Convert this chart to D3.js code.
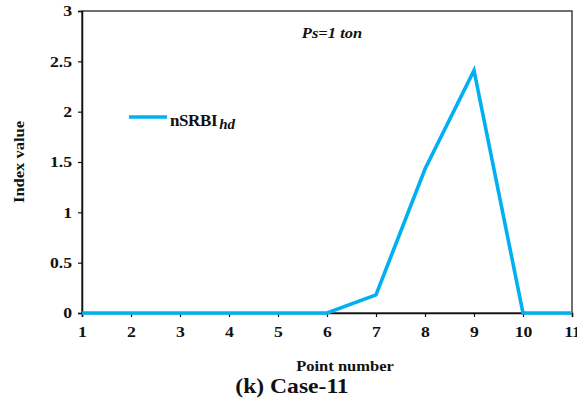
<!DOCTYPE html>
<html><head><meta charset="utf-8">
<script src="https://cdn.jsdelivr.net/npm/d3@7"></script>
<style>
html,body{margin:0;padding:0;background:#fff;}
svg text{font-family:"Liberation Serif","Times New Roman","DejaVu Serif",serif;}
</style></head>
<body><svg id="c" width="577" height="402"></svg>
<script>
// data
const points = [1, 2, 3, 4, 5, 6, 7, 8, 9, 10, 11];
const nSRBI = [0, 0, 0, 0, 0, 0, 0.18, 1.43, 2.41, 0, 0];
const yTicks = [0, 0.5, 1, 1.5, 2, 2.5, 3];

const W = 577, H = 402, ML = 82, MR = 5, TOP = 11, BOT = 89;
const FONT = '"Liberation Serif","Times New Roman","DejaVu Serif",serif';
const SX = 1.18; // the source type is set wider than Times
const svg = d3.select("#c");
const x = d3.scaleLinear().domain([1, 11]).range([ML, W - MR]);
const y = d3.scaleLinear().domain([0, 3]).range([H - BOT, TOP]);
const BLUE = "#00b0f0";

// text placed at (px,py) and widened by SX
function wide(px, py, str, opts = {}) {
  const t = svg.append("text")
    .attr("transform", `translate(${px},${py})${opts.rot ? " rotate(" + opts.rot + ")" : ""} scale(${SX},1)`)
    .attr("text-anchor", opts.anchor || "start")
    .attr("font-size", opts.size || 14)
    .attr("font-weight", opts.weight || "bold")
    .attr("font-style", opts.italic ? "italic" : null)
    .attr("fill", "#111");
  if (str) t.text(str);
  return t;
}

// frame
svg.append("rect")
  .attr("x", x(1)).attr("y", y(3))
  .attr("width", x(11) - x(1)).attr("height", y(0) - y(3))
  .attr("fill", "none").attr("stroke", "#222").attr("stroke-width", 1.3);

// axes
const yAx = svg.append("g").attr("transform", `translate(${x(1)},0)`)
  .call(d3.axisLeft(y).tickValues(yTicks).tickSize(4).tickPadding(6)
    .tickFormat(d => String(d)));
const xAx = svg.append("g").attr("transform", `translate(0,${y(0)})`)
  .call(d3.axisBottom(x).tickValues(points).tickSize(4).tickPadding(9)
    .tickFormat(d => String(d)));
[yAx, xAx].forEach(g => {
  g.select(".domain").attr("stroke", "#111").attr("stroke-width", 1.5);
  g.selectAll(".tick line").attr("stroke", "#111").attr("stroke-width", 1.2);
  g.selectAll("text").attr("fill", "#111")
    .style("font-family", FONT)
    .style("font-size", "15px").style("font-weight", "bold");
});
yAx.selectAll(".tick text").attr("x", -10 / SX).attr("transform", `scale(${SX},1)`);
xAx.selectAll(".tick text").attr("transform", `scale(${SX},1)`);

// series
const line = d3.line().x((d, i) => x(points[i])).y(d => y(d));
svg.append("path").datum(nSRBI)
  .attr("d", line)
  .attr("fill", "none").attr("stroke", BLUE)
  .attr("stroke-width", 3.6).attr("stroke-linejoin", "miter");

// legend
svg.append("line")
  .attr("x1", 129).attr("x2", 167).attr("y1", 117).attr("y2", 117)
  .attr("stroke", BLUE).attr("stroke-width", 3.6);
const lt = svg.append("text").attr("x", 170).attr("y", 126)
  .attr("font-size", 17).attr("font-weight", "bold").attr("fill", "#111")
  .attr("letter-spacing", -0.4);
lt.append("tspan").text("nSRBI");
lt.append("tspan").attr("dx", 2).attr("dy", 3).attr("font-style", "italic")
  .attr("font-size", 15).attr("letter-spacing", 0).text("hd");

// annotation
wide(332, 38, "Ps=1 ton", { anchor: "middle", size: 14, italic: true });

// axis titles
wide(24, 162, "Index value", { anchor: "middle", size: 14, rot: -90 });
wide(345, 371, "Point number", { anchor: "middle", size: 14 });
svg.append("rect").attr("x", 200).attr("y", 372).attr("width", 220).attr("height", 30).attr("fill", "#fff");
wide(292, 393, "(k) Case-11", { anchor: "middle", size: 20 });
</script></body></html>
